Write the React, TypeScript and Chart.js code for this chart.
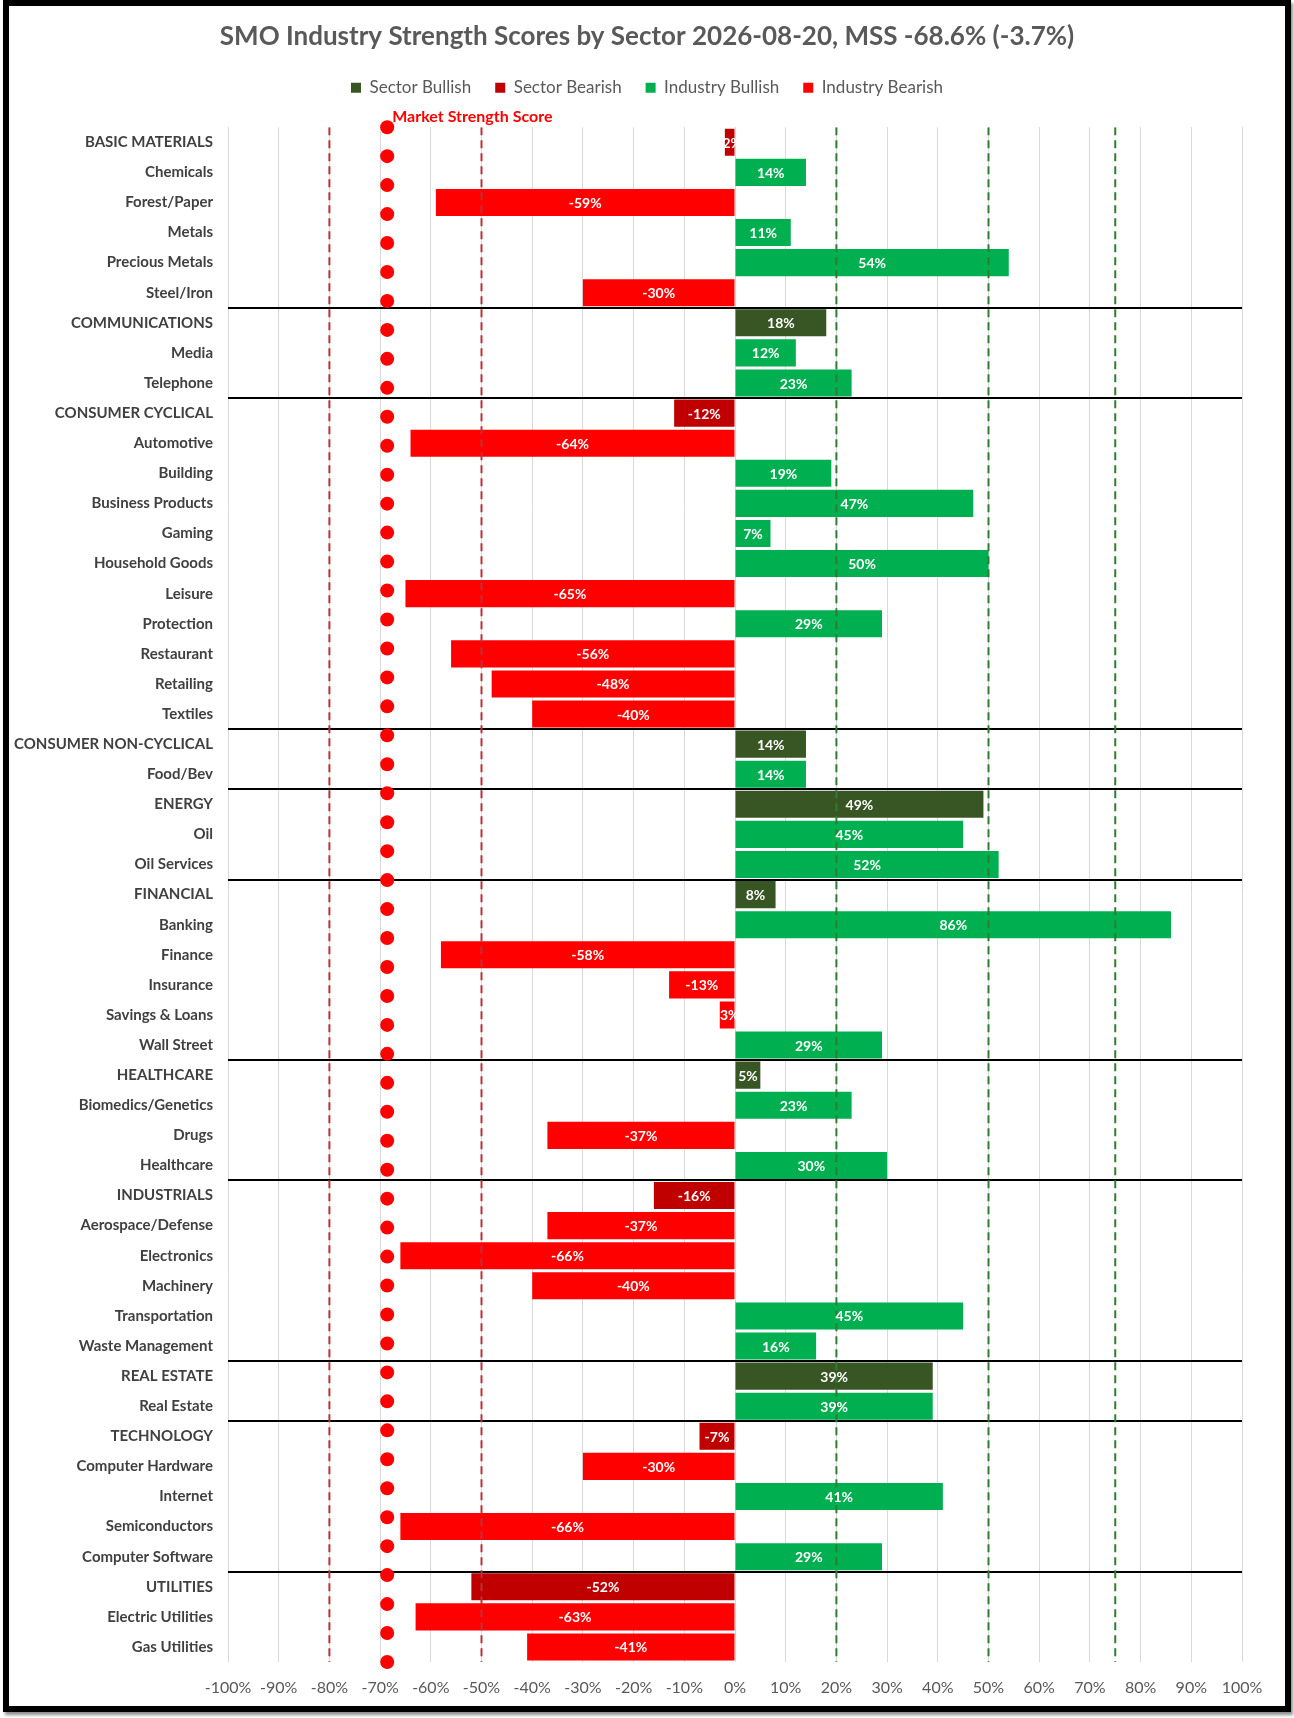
import React, { useEffect, useRef } from 'react';
import { Chart, registerables } from 'chart.js';

Chart.register(...registerables);

const TITLE = 'SMO Industry Strength Scores by Sector 2026-08-20, MSS -68.6% (-3.7%)';
const MSS = -68.6;
const MSS_LABEL = 'Market Strength Score';

const categories = [
  'BASIC MATERIALS', 'Chemicals', 'Forest/Paper', 'Metals', 'Precious Metals', 'Steel/Iron',
  'COMMUNICATIONS', 'Media', 'Telephone',
  'CONSUMER CYCLICAL', 'Automotive', 'Building', 'Business Products', 'Gaming', 'Household Goods',
  'Leisure', 'Protection', 'Restaurant', 'Retailing', 'Textiles',
  'CONSUMER NON-CYCLICAL', 'Food/Bev',
  'ENERGY', 'Oil', 'Oil Services',
  'FINANCIAL', 'Banking', 'Finance', 'Insurance', 'Savings & Loans', 'Wall Street',
  'HEALTHCARE', 'Biomedics/Genetics', 'Drugs', 'Healthcare',
  'INDUSTRIALS', 'Aerospace/Defense', 'Electronics', 'Machinery', 'Transportation', 'Waste Management',
  'REAL ESTATE', 'Real Estate',
  'TECHNOLOGY', 'Computer Hardware', 'Internet', 'Semiconductors', 'Computer Software',
  'UTILITIES', 'Electric Utilities', 'Gas Utilities',
];

const scores = [
  -2, 14, -59, 11, 54, -30,
  18, 12, 23,
  -12, -64, 19, 47, 7, 50, -65, 29, -56, -48, -40,
  14, 14,
  49, 45, 52,
  8, 86, -58, -13, -3, 29,
  5, 23, -37, 30,
  -16, -37, -66, -40, 45, 16,
  39, 39,
  -7, -30, 41, -66, 29,
  -52, -63, -41,
];

const sectors = [
  'BASIC MATERIALS', 'COMMUNICATIONS', 'CONSUMER CYCLICAL', 'CONSUMER NON-CYCLICAL', 'ENERGY',
  'FINANCIAL', 'HEALTHCARE', 'INDUSTRIALS', 'REAL ESTATE', 'TECHNOLOGY', 'UTILITIES',
];

const bearishRefLines = [-80, -50];
const bullishRefLines = [20, 50, 75];
const MSS_MARKER_COUNT = 54;

const FONT = 'Lato';

const isSector = categories.map((c) => sectors.includes(c));
const pick = (sector: boolean, bullish: boolean) =>
  scores.map((v, i) => (isSector[i] === sector && (v >= 0) === bullish ? v : null));

const mssPoints = Array.from({ length: MSS_MARKER_COUNT }, (_, i) => ({ x: MSS, y: i }));

const barLabelPlugin = {
  id: 'barLabels',
  afterDatasetsDraw(chart: any) {
    const ctx = chart.ctx;
    ctx.save();
    ctx.font = `bold 14px ${FONT}`;
    ctx.fillStyle = '#FFFFFF';
    ctx.textAlign = 'center';
    ctx.textBaseline = 'middle';
    chart.data.datasets.forEach((ds: any, di: number) => {
      if (ds.type !== 'bar') return;
      const meta = chart.getDatasetMeta(di);
      meta.data.forEach((el: any, i: number) => {
        const v = ds.data[i];
        if (v === null || v === undefined) return;
        const p = el.getProps(['x', 'y', 'base'], true);
        ctx.fillText(`${v}%`, (p.x + p.base) / 2, p.y + 1);
      });
    });
    ctx.restore();
  },
};

function makeBar(label: string, data: (number | null)[], color: string) {
  return {
    type: 'bar',
    label,
    data,
    backgroundColor: color,
    borderWidth: 0,
    indexAxis: 'y',
    grouped: false,
    barPercentage: 0.9,
    categoryPercentage: 1,
    xAxisID: 'x',
    yAxisID: 'y',
    order: 2,
  };
}

function makeRefLine(v: number, color: string) {
  return {
    type: 'scatter',
    label: `ref ${v}`,
    data: [
      { x: v, y: 0 },
      { x: v, y: MSS_MARKER_COUNT - 1 },
    ],
    showLine: true,
    borderColor: color,
    borderWidth: 2,
    borderDash: [8, 5],
    pointRadius: 0,
    xAxisID: 'x',
    yAxisID: 'y2',
    indexAxis: 'x',
    order: 0,
  };
}

export default function App() {
  const canvasRef = useRef<HTMLCanvasElement | null>(null);

  useEffect(() => {
    let chart: Chart | null = null;
    let cancelled = false;
    const build = () => {
      if (cancelled || !canvasRef.current) return;
      Chart.defaults.font.family = FONT;
      const datasets: any[] = [
        makeBar('Sector Bullish', pick(true, true), '#375623'),
        makeBar('Sector Bearish', pick(true, false), '#C00000'),
        makeBar('Industry Bullish', pick(false, true), '#00B050'),
        makeBar('Industry Bearish', pick(false, false), '#FF0000'),
        ...bearishRefLines.map((v) => makeRefLine(v, '#B8323A')),
        ...bullishRefLines.map((v) => makeRefLine(v, '#2E7D32')),
        {
          type: 'scatter',
          label: MSS_LABEL,
          data: mssPoints,
          pointRadius: 7,
          pointBackgroundColor: '#FF0000',
          pointBorderWidth: 0,
          xAxisID: 'x',
          yAxisID: 'y2',
          indexAxis: 'x',
          clip: false,
          order: 0,
        },
      ];
      chart = new Chart(canvasRef.current, {
        type: 'bar',
        data: { labels: categories, datasets },
        plugins: [barLabelPlugin],
        options: {
          indexAxis: 'y',
          animation: false,
          responsive: false,
          maintainAspectRatio: false,
          events: [],
          layout: { padding: 0 },
          plugins: {
            tooltip: { enabled: false },
            title: {
              display: true,
              text: TITLE,
              color: '#595959',
              font: { family: FONT, size: 26, weight: 'bold' },
              padding: { top: 15, bottom: 3 },
            },
            legend: {
              display: true,
              position: 'top',
              labels: {
                boxWidth: 10,
                boxHeight: 10,
                padding: 24,
                color: '#595959',
                font: { family: FONT, size: 17 },
                filter: (item: any) => item.datasetIndex < 4,
              },
            },
          },
          scales: {
            x: {
              type: 'linear',
              position: 'bottom',
              min: -100,
              max: 100,
              offset: false,
              grid: { color: '#D9D9D9', lineWidth: 1, drawTicks: false, offset: false },
              border: { display: false },
              ticks: {
                stepSize: 10,
                autoSkip: false,
                maxRotation: 0,
                padding: 16,
                color: '#595959',
                font: { family: FONT, size: 16 },
                callback: (v: any) => `${v}%`,
              },
              afterFit: (s: any) => {
                s.height = 44;
              },
            },
            x2: {
              type: 'linear',
              position: 'top',
              min: -100,
              max: 100,
              offset: false,
              grid: { display: false, drawTicks: false },
              border: { display: false },
              afterBuildTicks: (s: any) => {
                s.ticks = [{ value: MSS }];
              },
              ticks: {
                align: 'start',
                padding: 1,
                labelOffset: 5,
                autoSkip: false,
                maxRotation: 0,
                color: '#FF0000',
                font: { family: FONT, size: 16, weight: 'bold' },
                callback: () => MSS_LABEL,
              },
              afterFit: (s: any) => {
                s.height = 21;
              },
            },
            y: {
              type: 'category',
              position: 'left',
              offset: true,
              grid: {
                offset: true,
                drawTicks: false,
                lineWidth: 2,
                color: (ctx: any) => {
                  const i = ctx.index;
                  return typeof i === 'number' && i > 0 && isSector[i] ? '#000000' : 'rgba(0,0,0,0)';
                },
              },
              border: { display: false },
              ticks: {
                autoSkip: false,
                padding: 15,
                color: '#404040',
                font: { family: FONT, size: 15, weight: 'bold' },
              },
              afterFit: (s: any) => {
                s.width = 219;
              },
            },
            y2: {
              type: 'linear',
              position: 'left',
              display: false,
              offset: false,
              min: 0,
              max: MSS_MARKER_COUNT - 1,
              reverse: true,
              grid: { display: false },
            },
            yRight: {
              type: 'linear',
              position: 'right',
              display: true,
              offset: false,
              grid: { display: false, drawTicks: false },
              border: { display: false },
              ticks: { display: false },
              afterFit: (s: any) => {
                s.width = 43;
              },
            },
          },
        } as any,
      });
    };
    const fontsReady = (document as any).fonts
      ? Promise.all([
          (document as any).fonts.load(`bold 26px ${FONT}`),
          (document as any).fonts.load(`16px ${FONT}`),
        ]).catch(() => null)
      : Promise.resolve(null);
    fontsReady.then(build);
    return () => {
      cancelled = true;
      if (chart) chart.destroy();
    };
  }, []);

  return (
    <div style={{ position: 'absolute', left: 0, top: 0, width: 1294, height: 1718, background: '#FFFFFF' }}>
      <div
        style={{
          position: 'absolute',
          left: 3,
          top: 0,
          width: 1288,
          height: 1712,
          boxSizing: 'border-box',
          border: '6px solid #000000',
          boxShadow: '2px 3px 3px rgba(0,0,0,0.45)',
          background: '#FFFFFF',
        }}
      >
        <canvas ref={canvasRef} width={1276} height={1700} style={{ display: 'block', width: 1276, height: 1700 }} />
      </div>
    </div>
  );
}
